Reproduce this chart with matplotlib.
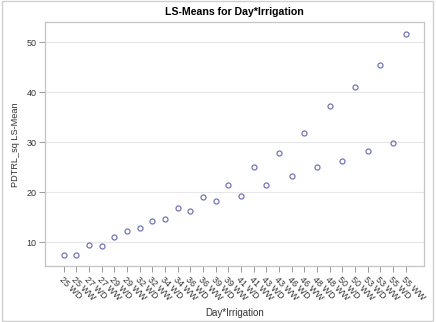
import numpy as np
import matplotlib
matplotlib.use('Agg')
import matplotlib.pyplot as plt
from matplotlib.patches import Rectangle

plt.rcParams['font.family'] = ['Liberation Sans', 'DejaVu Sans']

# day*irrigation levels and their LS-means
days = ['25', '25', '27', '27', '29', '29', '32', '32', '34', '34', '36', '36', '39', '39',
        '41', '41', '43', '43', '46', '46', '48', '48', '50', '50', '53', '53', '55', '55']
irrig = ['WD', 'WW'] * 14
lsmean = [7.52, 7.40, 9.40, 9.26, 11.06, 12.26, 12.92, 14.20, 14.66, 16.86,
          16.20, 19.12, 18.20, 21.46, 19.26, 25.00, 21.46, 27.80, 23.32, 31.80,
          25.06, 37.32, 26.32, 41.00, 28.20, 45.46, 29.80, 51.66]
labels = [d + ' ' + i for d, i in zip(days, irrig)]

fig = plt.figure(figsize=(4.36, 3.22), dpi=100)
ax = fig.add_axes([0.1032, 0.1724, 0.8693, 0.7593])

x = np.arange(len(labels))
ax.plot(x, lsmean, linestyle='none', marker='o', markersize=3.6,
        markerfacecolor='none', markeredgecolor='#7275bd', markeredgewidth=0.9)

ax.set_xlim(-1.476, 28.44)
ax.set_ylim(5.16, 54.06)
ax.set_yticks([10, 20, 30, 40, 50])
ax.set_xticks(x)
ax.set_xticklabels(labels, rotation=-45, ha='left', va='top', rotation_mode='anchor')

ax.grid(axis='y', color='#e6e6e6', linewidth=0.8)
ax.set_axisbelow(True)
for s in ax.spines.values():
    s.set_color('#c4c4c4')
    s.set_linewidth(0.9)
ax.tick_params(axis='both', colors='#9a9a9a', length=4, width=0.7, labelsize=6.5,
               labelcolor='#333333', pad=2)

ax.set_title('LS-Means for Day*Irrigation', fontsize=7.6, fontweight='bold', pad=5)
ax.set_ylabel('PDTRL_sq LS-Mean', fontsize=6.6, color='#333333', labelpad=5)
ax.set_xlabel('Day*Irrigation', fontsize=7, color='#333333', labelpad=4)

# outer frame of the graph
fig.patches.append(Rectangle((0.004, 0.003), 0.989, 0.994, transform=fig.transFigure,
                             fill=False, edgecolor='#d0d0d0', linewidth=1.0))

fig.savefig('out.png', dpi=100)
